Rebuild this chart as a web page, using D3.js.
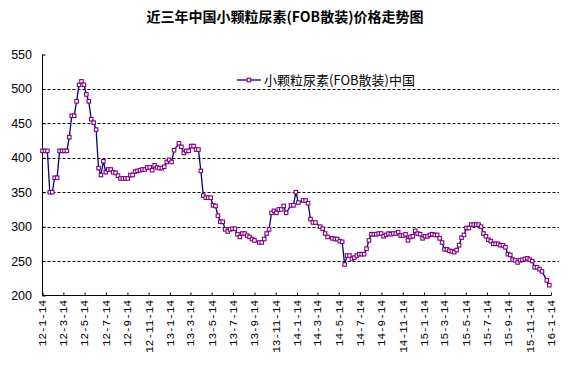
<!DOCTYPE html>
<html><head><meta charset="utf-8">
<script src="https://cdn.jsdelivr.net/npm/d3@7"></script>
<style>body{margin:0;background:#fff;} svg{display:block}</style>
</head><body><svg id="c" width="568" height="392"></svg>
<script>
const chartTitle = "近三年中国小颗粒尿素(FOB散装)价格走势图";
const seriesName = "小颗粒尿素(FOB散装)中国";
const startDate = "12-1-14";
// week number (weeks after 2012-01-14) of each observation
const weekNo = [
 0,1,2,3,4,5,6,7,8,9,10,11,12,13,14,15,16,17,18,19,20,21,22,23,24,25,26,27,28,29,30,31,32,33,34,35,36,37,38,39,
 40,41,42,43,44,45,46,47,48,49,50,51,52,53,54,
 56,57,58,59,60,61,62,63,64,65,66,67,68,69,70,71,72,73,74,75,76,77,78,79,80,81,82,
 83,84,85,86,87,89,90,91,92,93,94,95,96,97,98,99,100,102,103,104,105,107,108,109,110,111,112,114,115,116,117,119,120,121,122,123,124,125,126,127,
 128,129,130,131,132,133,134,135,136,137,138,139,140,141,142,143,144,145,146,147,148,149,150,151,152,153,154,155,156,157,158,159,160,161,162,163,164,165,166,167,168,169,
 170,171,172,173,174,175,176,177,178,179,180,181,182,183,184,185,186,187,188,189,190,191,192,193,194,195,196,197,198,199,200,201,202,203,204,205,207,208
];
const price = [
 410,410,410,350,350,371,371,410,410,410,410,430,461,461,482,506,511,506,492,482,456,451,441,385,375,395,379,383,383,379,378,374,370,370,370,370,375,375,380,381,
 382,383,383,386,386,382,389,386,385,385,387,394,397,394,411,
 421,416,407,410,410,417,417,412,412,381,345,342,342,342,331,330,316,307,307,296,293,296,297,297,289,285,290,
 290,287,285,282,280,277,277,282,290,296,320,323,320,325,325,330,320,331,331,350,335,338,338,334,311,306,306,300,297,290,285,283,282,282,279,278,245,258,258,253,
 255,258,260,260,260,268,280,289,289,289,290,290,286,288,290,289,290,290,292,287,287,289,280,285,286,294,290,289,283,286,286,288,289,288,288,283,277,267,267,265,264,263,
 266,273,284,288,298,298,303,303,303,303,300,290,286,281,279,275,275,275,273,273,270,260,259,252,251,248,251,252,253,254,252,250,241,241,238,235,222,215
];
const xTickLabels = ["12-1-14","12-3-14","12-5-14","12-7-14","12-9-14","12-11-14","13-1-14","13-3-14","13-5-14","13-7-14","13-9-14","13-11-14","14-1-14","14-3-14","14-5-14","14-7-14","14-9-14","14-11-14","15-1-14","15-3-14","15-5-14","15-7-14","15-9-14","15-11-14","16-1-14"];
const yTicks = [200,250,300,350,400,450,500,550];
const gridValues = [250,300,350,400,450,500];

const parseLabel = s => { const [y,m,d] = s.split("-").map(Number); return new Date(2000+y, m-1, d); };
const start = parseLabel(startDate);
const data = weekNo.map((w,i) => ({date: d3.timeDay.offset(start, 7*w), v: price[i]}));
const tickDates = xTickLabels.map(parseLabel);

const svg = d3.select("#c");
const x = d3.scaleTime().domain([tickDates[0], tickDates[tickDates.length-1]]).range([42.5, 551]);
const y = d3.scaleLinear().domain([200,550]).range([295.5, 54.5]);
const gridRight = 559;

// title
svg.append("text").attr("x",285).attr("y",22).attr("text-anchor","middle")
  .attr("font-family","'Noto Sans CJK SC', sans-serif").attr("font-weight","bold").attr("font-size",14)
  .attr("fill","#000").text(chartTitle);

// gridlines
svg.append("g").selectAll("line").data(gridValues).join("line")
  .attr("x1",42.5).attr("x2",gridRight).attr("y1",d=>Math.round(y(d))+0.5).attr("y2",d=>Math.round(y(d))+0.5)
  .attr("stroke","#000").attr("stroke-width",1).attr("stroke-dasharray","3,2");

// y axis
const yAxis = d3.axisRight(y).tickValues(yTicks).tickSize(3).tickFormat("");
const gy = svg.append("g").attr("transform","translate(42.5,0)").call(yAxis);
gy.select(".domain").attr("d", `M0,${y(550)}V${y(200)}`).attr("stroke","#000");
gy.selectAll(".tick line").attr("stroke","#000");
svg.append("g").selectAll("text").data(yTicks).join("text")
  .attr("x",32).attr("y",d=>y(d)).attr("dy","0.36em").attr("text-anchor","end")
  .attr("font-family","'Liberation Sans', Arial, sans-serif").attr("font-size",12.5).attr("fill","#000")
  .text(d=>d);

// x axis
const xAxis = d3.axisTop(x).tickValues(tickDates).tickSize(3).tickFormat("");
const gx = svg.append("g").attr("transform","translate(0,295.5)").call(xAxis);
gx.select(".domain").attr("d", `M${x.range()[0]},0H${x.range()[1]}`).attr("stroke","#000");
gx.selectAll(".tick line").attr("stroke","#000");
svg.append("g").selectAll("text").data(xTickLabels).join("text")
  .attr("transform",(d,i)=>`translate(${x(tickDates[i])},300) rotate(-90)`)
  .attr("dy","0.35em").attr("text-anchor","end")
  .attr("font-family","'Liberation Mono', monospace").attr("font-size",11).attr("fill","#000")
  .text(d=>d);

// series line
const line = d3.line().x(d=>x(d.date)).y(d=>y(d.v));
svg.append("path").datum(data).attr("d",line).attr("fill","none")
  .attr("stroke","#000080").attr("stroke-width",1.3);
svg.append("g").selectAll("rect").data(data).join("rect")
  .attr("x",d=>x(d.date)-1.75).attr("y",d=>y(d.v)-1.75).attr("width",3.5).attr("height",3.5)
  .attr("fill","#fff").attr("stroke","#800080").attr("stroke-width",1.1);

// legend
const lg = svg.append("g");
lg.append("line").attr("x1",237).attr("x2",261).attr("y1",80).attr("y2",80).attr("stroke","#000080").attr("stroke-width",1.3);
lg.append("rect").attr("x",247.25).attr("y",78.25).attr("width",3.5).attr("height",3.5).attr("fill","#fff").attr("stroke","#800080").attr("stroke-width",1.1);
lg.append("text").attr("x",264).attr("y",80).attr("dy","0.36em")
  .attr("font-family","'Noto Sans CJK SC', sans-serif").attr("font-size",13).attr("fill","#000")
  .text(seriesName);
</script></body></html>
